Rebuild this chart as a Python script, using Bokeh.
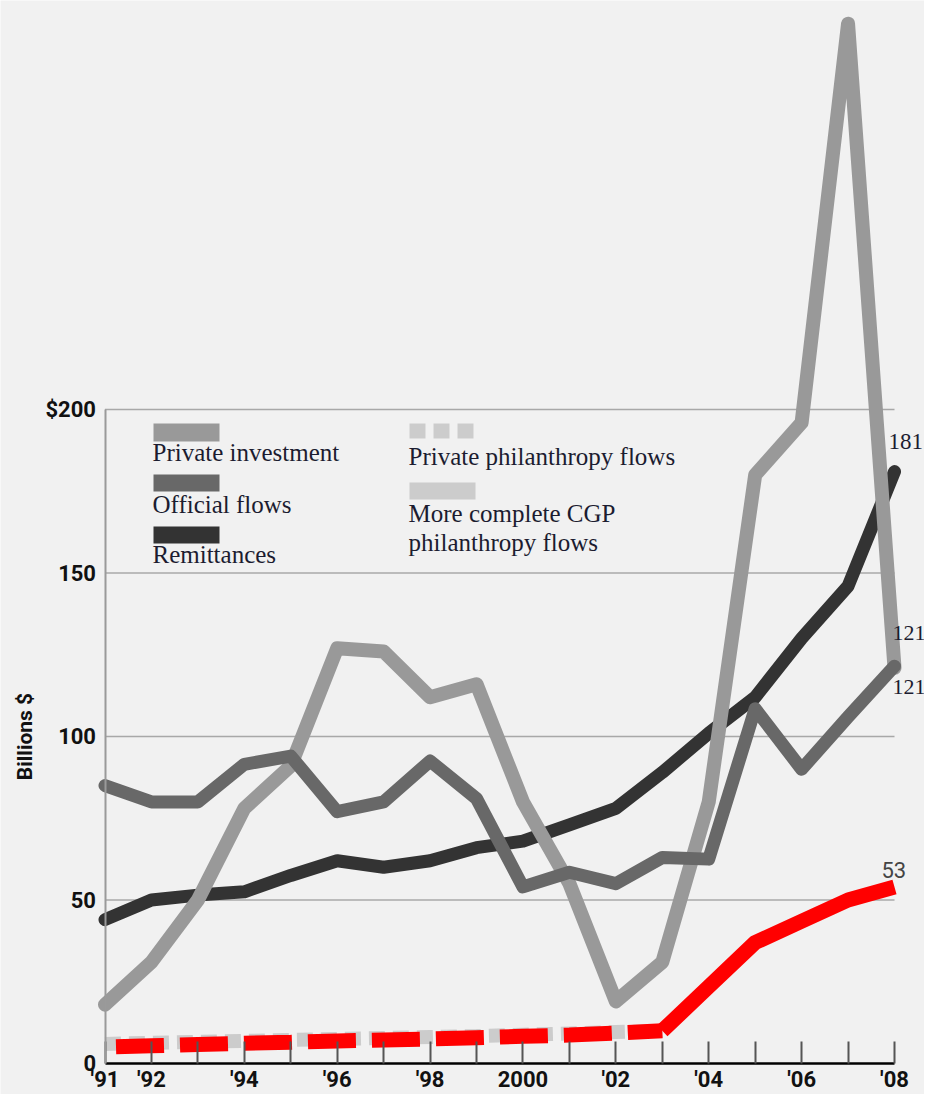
from bokeh.plotting import figure
from bokeh.models import FixedTicker, BoxAnnotation, Label, Range1d
from bokeh.embed import file_html
from bokeh.resources import INLINE

# ---------------- data (billions $) ----------------
years = list(range(1991, 2009))
private_investment = [18, 31, 50, 78, 91, 127, 126, 112, 116, 80, 55, 19, 31, 80, 180, 196, 318, 121]
official_flows = [85, 80, 80, 91.5, 94, 77, 80, 92.5, 81, 54, 58.5, 55, 63, 62.5, 108.5, 90, 106, 121.5]
remittances = [44, 50, 51.5, 52.5, 57.5, 62, 60, 62, 66, 68, 73, 78, 89, 101, 112, 130, 146, 181]

phil_years = years[:13]
private_philanthropy = [6, 6.3, 6.6, 6.9, 7.2, 7.5, 7.8, 8.1, 8.4, 8.8, 9.2, 9.6, 10]

cgp_dashed_years = years[:13]
cgp_dashed = [5, 5.4, 5.8, 6.2, 6.5, 6.9, 7.2, 7.5, 7.9, 8.3, 8.7, 9.3, 10]
cgp_solid_years = years[12:]
cgp_solid = [10, 23.5, 37, 43.5, 50, 54]

grid_levels = [50, 100, 150, 200]
y_ticks = [0, 50, 100, 150, 200]
y_tick_labels = ["0", "50", "100", "150", "$200"]
x_tick_labels = ["'91", "'92", "", "'94", "", "'96", "", "'98", "", "2000", "", "'02", "", "'04", "", "'06", "", "'08"]

end_labels = ["181", "121", "121", "53"]

# ---------------- layout helpers (figure pixels -> data) ----------------
W = 924
H = 1094
PPX = (894 - 104.5) / 17
X0 = 1991 - 104.5 / PPX
X1 = X0 + W / PPX
ZERO_PX = 1063
PPY = (ZERO_PX - 409) / 200
Y0 = -(H - ZERO_PX) / PPY
Y1 = ZERO_PX / PPY


def px_x(px):
    return X0 + px / PPX


def px_y(py):
    return (ZERO_PX - py) / PPY


BG = "#f1f1f1"
SANS = "Roboto"
SERIF = "Liberation Serif"

p = figure(frame_width=W, frame_height=H,
           x_range=Range1d(X0, X1), y_range=Range1d(Y0, Y1),
           output_backend="svg", toolbar_location=None,
           min_border_left=0, min_border_right=0, min_border_top=0, min_border_bottom=0,
           background_fill_color=BG, border_fill_color=BG, outline_line_color=None)

p.xgrid.visible = False
p.ygrid.visible = False

# x axis, placed at 0 inside the frame
xa = p.xaxis[0]
xa.fixed_location = y_ticks[0]
xa.ticker = FixedTicker(ticks=years)
xa.major_label_overrides = {y: l for y, l in zip(years, x_tick_labels)}
xa.bounds = (years[0], years[-1])
xa.axis_line_color = "black"
xa.axis_line_width = 2.5
xa.major_tick_in = 22
xa.major_tick_out = 0
xa.major_tick_line_color = "#555555"
xa.major_tick_line_width = 2
xa.minor_tick_line_color = None
xa.major_label_standoff = 3
xa.major_label_text_font = SANS
xa.major_label_text_font_style = "bold"
xa.major_label_text_font_size = "22px"
xa.major_label_text_color = "#111111"

# y axis, placed at 1991 inside the frame
ya = p.yaxis[0]
ya.fixed_location = years[0]
ya.bounds = (y_ticks[0], y_ticks[-1])
ya.ticker = FixedTicker(ticks=y_ticks)
ya.major_label_overrides = {t: l for t, l in zip(y_ticks, y_tick_labels)}
ya.axis_line_color = "#9a9a9a"
ya.axis_line_width = 2
ya.major_tick_in = 0
ya.major_tick_out = 0
ya.minor_tick_line_color = None
ya.major_label_standoff = 9
ya.major_label_text_font = SANS
ya.major_label_text_font_style = "bold"
ya.major_label_text_font_size = "22px"
ya.major_label_text_color = "#111111"
ya.axis_label = "Billions $"
ya.axis_label_standoff = 6
ya.axis_label_text_font = SANS
ya.axis_label_text_font_style = "bold"
ya.axis_label_text_font_size = "21px"
ya.axis_label_text_color = "#111111"

# grid lines
n = len(grid_levels)
p.segment(x0=[years[0]] * n, x1=[years[-1]] * n, y0=grid_levels, y1=grid_levels,
          line_color="#a8a8a8", line_width=1.5)

# series
p.line(years, remittances, line_color="#333333", line_width=13, line_join="round", line_cap="round")
p.line(years, private_investment, line_color="#999999", line_width=14, line_join="round", line_cap="round")
p.line(years, official_flows, line_color="#686868", line_width=13, line_join="round", line_cap="round")

p.line(phil_years, private_philanthropy, line_color="#cccccc", line_width=14, line_dash="16 8")
p.line(cgp_dashed_years, cgp_dashed, line_color="#ff0000", line_width=15, line_dash="48 16",
       line_dash_offset=53)
p.line(cgp_solid_years, cgp_solid, line_color="#ff0000", line_width=15, line_join="round")


# legend swatches
def box(l, r, t, b, color):
    p.add_layout(BoxAnnotation(left=px_x(l), right=px_x(r), top=px_y(t), bottom=px_y(b),
                               fill_color=color, fill_alpha=1, line_color=None))


box(153, 219, 423, 441, "#999999")
box(153, 219, 474, 491, "#686868")
box(153, 219, 526, 543, "#333333")
for l in (409, 433, 457):
    box(l, l + 16, 423, 438, "#cccccc")
box(409, 475, 482, 499, "#cccccc")

TEXT_COL = "#1c1c30"


def label(x, y, text, font=SERIF, size="25px", style="normal", align="left", color=TEXT_COL):
    p.add_layout(Label(x=px_x(x), y=px_y(y), text=text, text_font=font, text_font_size=size,
                       text_font_style=style, text_align=align, text_baseline="middle",
                       text_color=color))


label(152, 452, "Private investment")
label(152, 504, "Official flows")
label(152, 554, "Remittances")
label(408, 456, "Private philanthropy flows")
label(408, 513, "More complete CGP")
label(408, 542, "philanthropy flows")

# end-value labels
label(888, 441, end_labels[0], size="23px")
label(892, 632, end_labels[1], size="22px")
label(892, 686, end_labels[2], size="22px")
label(881, 869, end_labels[3], font=SANS, color="#444444", size="22px")

open("out.html", "w").write(file_html(p, INLINE))
